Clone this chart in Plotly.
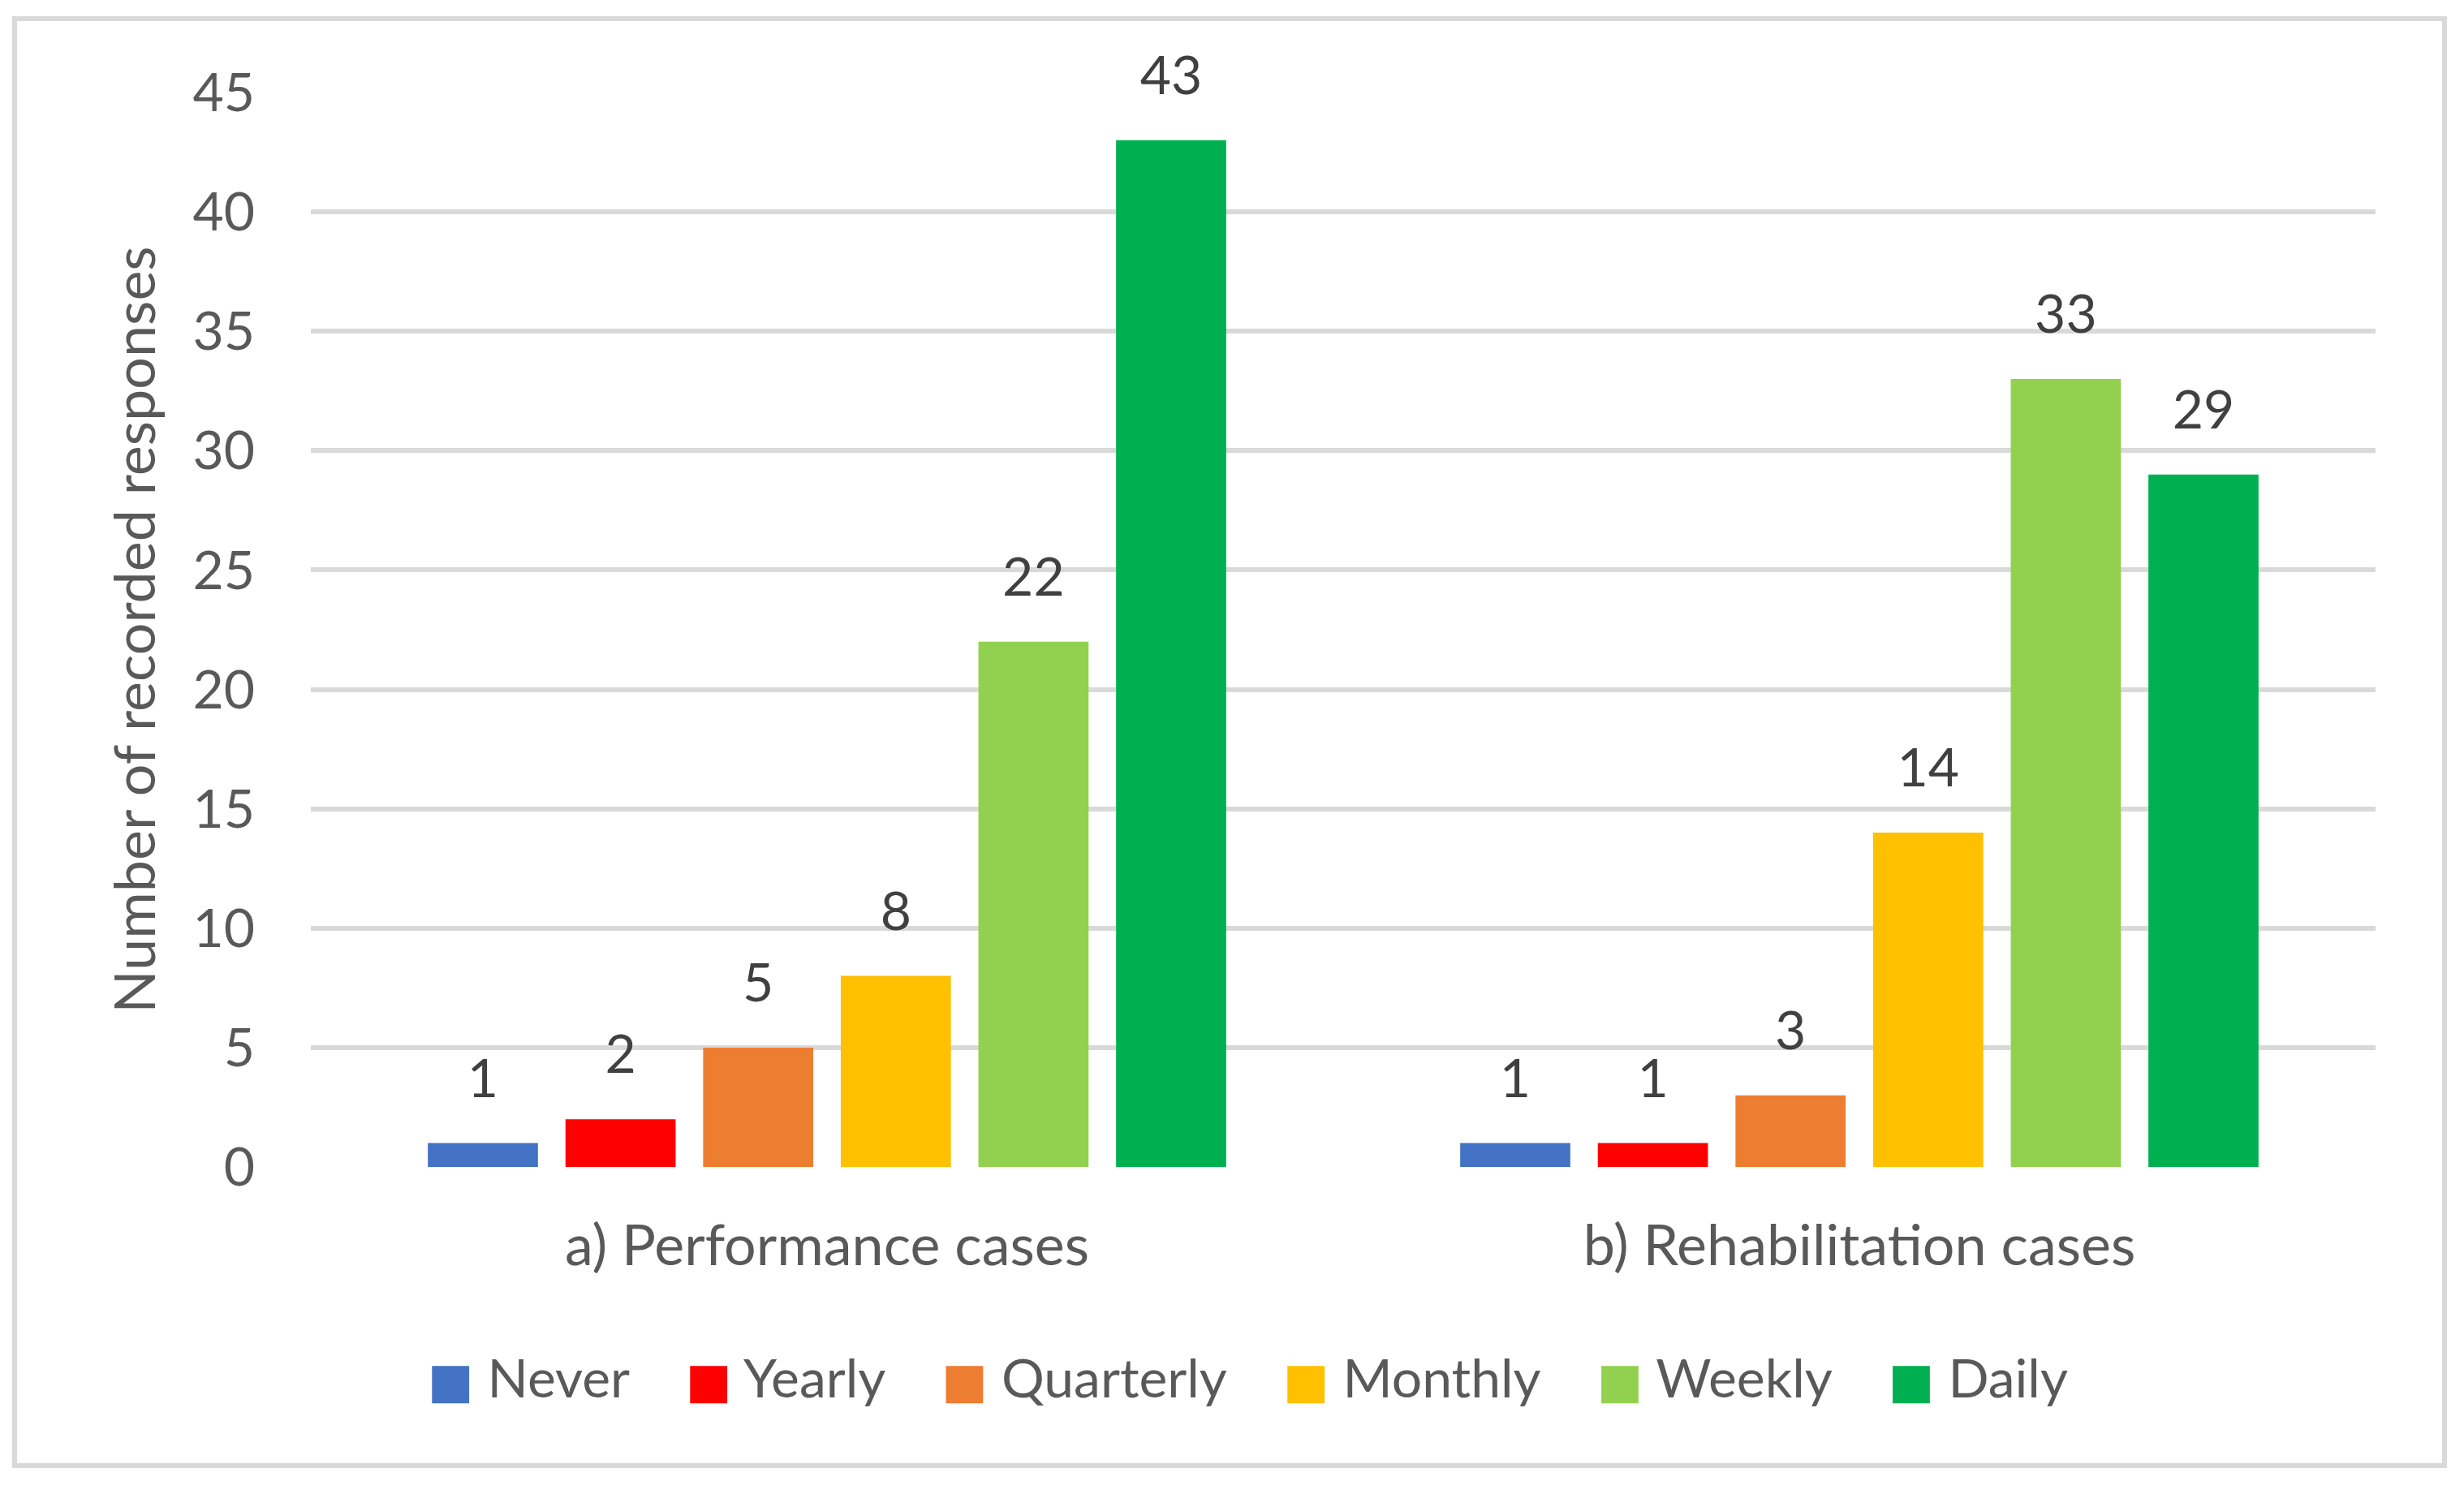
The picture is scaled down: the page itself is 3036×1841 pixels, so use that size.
import plotly.graph_objects as go

# ---- data ----
categories = ["a) Performance cases", "b) Rehabilitation cases"]
series_names = ["Never", "Yearly", "Quarterly", "Monthly", "Weekly", "Daily"]
never = [1, 1]
yearly = [2, 1]
quarterly = [5, 3]
monthly = [8, 14]
weekly = [22, 33]
daily = [43, 29]
y_ticks = [0, 5, 10, 15, 20, 25, 30, 35, 40, 45]
y_title = "Number of recorded responses"

series_values = [never, yearly, quarterly, monthly, weekly, daily]
colors = ["#4472C4", "#FF0000", "#ED7D31", "#FFC000", "#92D050", "#00B050"]

# ---- layout constants (page has an 8px body margin) ----
OFF = 8
W, H = 3036 - 2 * OFF, 1841 - 2 * OFF
L, T = 383 - OFF, 114 - OFF
PLOT_R, PLOT_B = 2927 - OFF, 1438 - OFF
R, B = W - PLOT_R, H - PLOT_B
PW, PH = W - L - R, H - T - B
FONT = "Lato"
FS = 66
FS_BIG = 70
TICK_COLOR = "#595959"
LABEL_COLOR = "#404040"
GRID = "#D9D9D9"


def px_to_paper_x(px):
    return (px - OFF - L) / PW


def px_to_paper_y(py):
    return (PLOT_B - (py - OFF)) / PH


fig = go.Figure()

for name, vals, col in zip(series_names, series_values, colors):
    fig.add_trace(go.Bar(
        x=categories, y=vals, name=name, marker=dict(color=col, line=dict(width=0)),
        showlegend=False, legendgroup=name, hoverinfo="x+y+name",
    ))

# data labels positioned through grouped scatter offsets
for name, vals, col in zip(series_names, series_values, colors):
    fig.add_trace(go.Scatter(
        x=categories, y=vals, mode="markers+text", text=[str(v) for v in vals],
        textposition="top center",
        textfont=dict(family=FONT, size=FS, color=LABEL_COLOR),
        marker=dict(size=63, color="rgba(0,0,0,0)"),
        showlegend=False, legendgroup=name, hoverinfo="skip", cliponaxis=False,
    ))

# legend entries (on hidden overlay axes so they do not join the groups)
for name, col in zip(series_names, colors):
    fig.add_trace(go.Scatter(
        x=[None], y=[None], mode="lines", line=dict(width=0, color=col),
        xaxis="x2", yaxis="y2",
        name=f"<span style='color:{col};font-family:DejaVu Sans;font-size:60px'>■</span> {name}",
        legendgroup=name, showlegend=True, hoverinfo="skip",
    ))

fig.update_layout(
    width=W, height=H,
    margin=dict(l=L, r=R, t=T, b=B, autoexpand=False),
    paper_bgcolor="white", plot_bgcolor="white",
    barmode="group", bargap=0.2, bargroupgap=0.2,
    scattermode="group", scattergap=0.2,
    font=dict(family=FONT, size=FS, color=TICK_COLOR),
    legend=dict(
        orientation="h", x=px_to_paper_x(1508), y=px_to_paper_y(1696),
        xanchor="center", yanchor="middle",
        font=dict(family=FONT, size=FS, color=TICK_COLOR),
        itemwidth=54, traceorder="normal", bgcolor="rgba(0,0,0,0)",
    ),
    xaxis=dict(
        showgrid=False, zeroline=False, showline=False, ticks="",
        tickfont=dict(family=FONT, size=FS_BIG, color=TICK_COLOR),
        ticklabelstandoff=50,
    ),
    yaxis=dict(
        range=[0, 45], tickvals=y_ticks, ticktext=[str(v) for v in y_ticks],
        showgrid=True, gridcolor=GRID, gridwidth=6, zeroline=False, showline=False,
        ticks="", tickfont=dict(family=FONT, size=FS, color=TICK_COLOR),
        ticklabelstandoff=68,
        title=dict(text=y_title, font=dict(family=FONT, size=FS_BIG, color=TICK_COLOR), standoff=22),
    ),
    xaxis2=dict(overlaying="x", visible=False),
    yaxis2=dict(overlaying="y", visible=False),
    shapes=[dict(
        type="rect", xref="paper", yref="paper", layer="below",
        x0=px_to_paper_x(18), x1=px_to_paper_x(3012),
        y0=px_to_paper_y(1806), y1=px_to_paper_y(23),
        line=dict(color=GRID, width=6), fillcolor="rgba(0,0,0,0)",
    )],
)

fig.write_html("out.html")
